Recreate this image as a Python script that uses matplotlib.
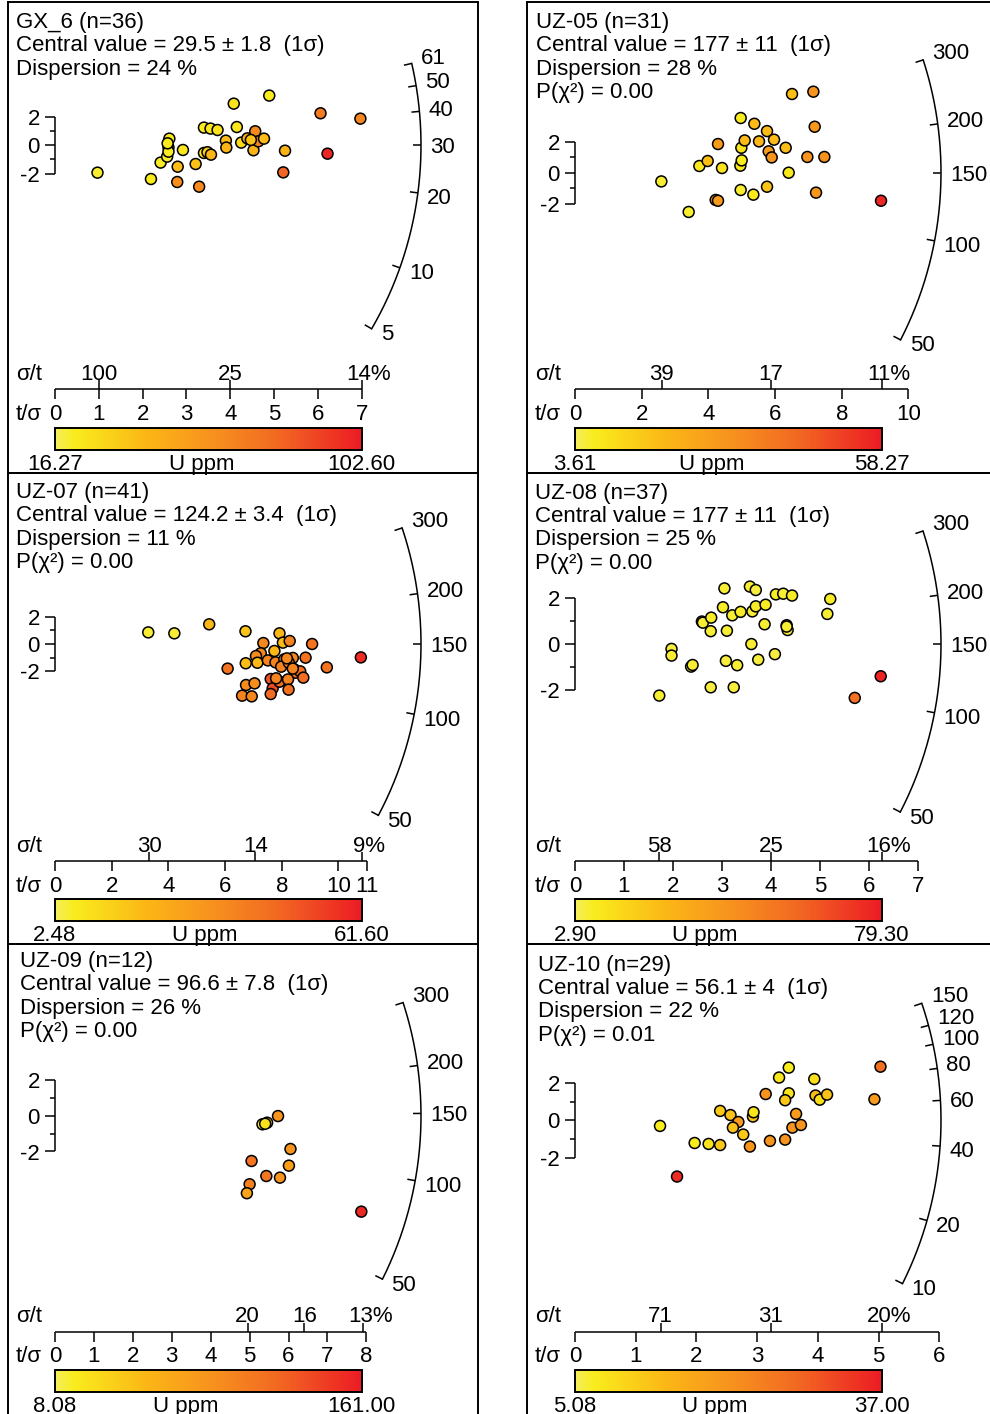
import numpy as np
import matplotlib.pyplot as plt
from matplotlib.colors import LinearSegmentedColormap, Normalize
from matplotlib.cm import ScalarMappable

plt.rcParams['font.family'] = ['Liberation Sans', 'DejaVu Sans']
plt.rcParams['font.size'] = 16

W, H = 990, 1414
R_ARC = 366.0     # radius of the age arc, pixels
X_SPAN = 306.7    # pixels between t/σ = 0 and the most precise grain
LW = 1.1

u_cmap = LinearSegmentedColormap.from_list(
    "u_ppm", [(0.0, "#f4ee5c"), (0.06, "#f9ec1d"), (0.3, "#fbb616"),
              (0.5, "#f7941d"), (0.72, "#f26a22"), (1.0, "#ec1c24")])

# GX_6
gx6_tsig = [0.97, 2.19, 2.41, 2.56, 2.59, 2.61, 2.80, 2.79, 2.92, 3.21, 3.29, 3.40, 3.40, 3.48, 3.56, 3.55, 3.71, 3.90,
            3.91, 4.08, 4.15, 4.25, 4.39, 4.53, 4.57, 4.64, 4.77, 4.89, 5.21, 5.25, 6.06, 6.22, 6.97, 2.59, 4.47, 2.57]
gx6_z = [-1.93, -2.38, -1.22, -0.80, -0.16, 0.47, -1.51, -2.59, -0.33, -1.32, -2.92, 1.25, -0.54, -0.49, -0.66, 1.18,
         1.08, 0.33, -0.16, 2.94, 1.29, 0.19, 0.49, -0.35, 0.99, 0.28, 0.47, 3.51, -1.91, -0.38, 2.26, -0.59, 1.88,
         -0.45, 0.38, 0.14]
gx6_u = [20, 22, 21, 20, 22, 23, 40, 62, 24, 38, 64, 22, 23, 33, 42, 24, 26, 40, 42, 25, 24, 28, 42, 44, 64, 66, 40,
         22, 80, 44, 70, 100, 66, 21, 38, 22]

# UZ-05
uz05_tsig = [2.59, 3.41, 3.73, 3.98, 4.29, 4.41, 4.22, 4.29, 4.97, 4.99, 5.09, 4.96, 5.00, 4.97, 5.35, 5.38, 5.52,
             5.76, 5.81, 5.90, 5.97, 5.76, 6.32, 6.41, 6.51, 7.15, 7.19, 6.97, 7.48, 7.23, 9.18]
uz05_z = [-0.56, -2.52, 0.43, 0.75, 1.84, 0.30, -1.75, -1.80, 3.51, 1.60, 2.07, 0.45, 0.79, -1.11, -1.41, 3.14, 2.01,
          2.67, 1.37, 0.98, 2.12, -0.90, 1.60, 0.00, 5.05, 5.20, 2.95, 1.01, 1.01, -1.28, -1.80]
uz05_u = [6, 6, 8, 18, 29, 9, 29, 29, 7, 9, 19, 8, 7, 6, 8, 19, 20, 19, 29, 31, 19, 17, 18, 8, 18, 31, 30, 31, 32, 30,
          56]

# UZ-07
uz07_tsig = [3.29, 4.21, 5.44, 6.72, 6.09, 6.73, 6.74, 7.04, 6.60, 6.94, 7.35, 7.26, 7.09, 7.14, 7.51, 7.74, 7.78,
             7.92, 8.04, 8.28, 8.09, 7.98, 8.39, 8.25, 8.44, 8.48, 8.65, 8.76, 8.84, 9.07, 9.59, 10.79, 7.61, 7.68,
             7.61, 7.92, 8.22, 8.24, 8.39, 8.18, 7.80]
uz07_z = [0.85, 0.78, 1.44, 0.93, -1.80, -1.41, -3.00, -2.88, -3.78, -3.83, 0.07, -0.68, -0.88, -1.37, -1.20, -0.51,
          -1.34, 0.78, 0.10, 0.22, -1.12, -1.66, -1.02, -1.37, -1.85, -2.10, -2.00, -2.46, -1.00, 0.00, -1.71, -0.98,
          -2.56, -3.24, -3.66, -2.76, -2.59, -3.34, -1.80, -1.05, -2.51]
uz07_u = [5, 5, 20, 17, 42, 18, 35, 34, 37, 36, 36, 36, 35, 20, 37, 20, 37, 20, 19, 37, 37, 38, 36, 38, 38, 43, 43,
          44, 42, 42, 42, 58, 50, 52, 45, 44, 38, 43, 38, 36, 38]

# UZ-08
uz08_tsig = [1.72, 1.97, 1.97, 2.37, 2.40, 2.59, 2.61, 2.78, 2.77, 2.77, 3.05, 3.02, 3.10, 3.08, 3.21, 3.24, 3.31,
             3.38, 3.57, 3.69, 3.62, 3.69, 3.60, 3.74, 3.89, 3.87, 4.08, 4.10, 4.25, 4.43, 4.32, 4.34, 5.21, 5.15,
             5.71, 6.24, 4.32]
uz08_z = [-2.23, -0.20, -0.49, -0.97, -0.90, 0.99, 0.94, 1.16, 0.57, -1.87, 2.43, 1.61, 0.59, -0.72, 1.26, -1.87,
          -0.91, 1.41, 2.51, 2.36, 1.43, 1.65, 0.01, -0.67, 1.72, 0.87, -0.43, 2.17, 2.20, 2.12, 0.83, 0.62, 1.97,
          1.32, -2.33, -1.39, 0.77]
uz08_u = [6, 5, 6, 5, 6, 5, 6, 7, 6, 5, 6, 7, 6, 5, 6, 5, 6, 7, 6, 5, 6, 7, 6, 5, 7, 6, 5, 7, 6, 7, 6, 5, 7, 6, 55,
          77, 6]

# UZ-09
uz09_tsig = [5.33, 5.45, 5.73, 6.05, 6.01, 5.78, 5.43, 5.05, 5.00, 4.93, 7.87, 5.40]
uz09_z = [-0.48, -0.39, -0.02, -1.86, -2.79, -3.46, -3.37, -2.53, -3.83, -4.33, -5.36, -0.45]
uz09_u = [18, 35, 85, 85, 75, 85, 108, 110, 100, 70, 155, 25]

# UZ-10
uz10_tsig = [1.40, 1.68, 1.97, 2.20, 2.39, 2.39, 2.56, 2.69, 2.60, 2.77, 2.88, 2.93, 2.94, 3.14, 3.21, 3.36, 3.52,
             3.52, 3.46, 3.46, 3.58, 3.64, 3.72, 3.94, 3.96, 4.03, 4.15, 4.93, 5.03]
uz10_z = [-0.30, -3.00, -1.21, -1.26, -1.32, 0.50, 0.28, -0.09, -0.39, -0.76, -1.40, 0.20, 0.43, 1.40, -1.10, 2.28,
          2.81, 1.44, 1.07, -1.03, -0.39, 0.34, -0.25, 2.20, 1.32, 1.10, 1.37, 1.12, 2.86]
uz10_u = [7, 35, 7, 8, 12, 12, 13, 20, 13, 12, 21, 13, 8, 21, 21, 8, 7, 8, 12, 21, 21, 20, 21, 9, 14, 9, 13, 20, 27]

# header text of each panel
gx6_lines = ["GX_6 (n=36)", "Central value = 29.5 ± 1.8  (1σ)", "Dispersion = 24 %"]
uz05_lines = ["UZ-05 (n=31)", "Central value = 177 ± 11  (1σ)", "Dispersion = 28 %", "P(χ²) = 0.00"]
uz07_lines = ["UZ-07 (n=41)", "Central value = 124.2 ± 3.4  (1σ)", "Dispersion = 11 %", "P(χ²) = 0.00"]
uz08_lines = ["UZ-08 (n=37)", "Central value = 177 ± 11  (1σ)", "Dispersion = 25 %", "P(χ²) = 0.00"]
uz09_lines = ["UZ-09 (n=12)", "Central value = 96.6 ± 7.8  (1σ)", "Dispersion = 26 %", "P(χ²) = 0.00"]
uz10_lines = ["UZ-10 (n=29)", "Central value = 56.1 ± 4  (1σ)", "Dispersion = 22 %", "P(χ²) = 0.01"]

# U colour ranges
gx6_urange = (16.27, 102.60)
uz05_urange = (3.61, 58.27)
uz07_urange = (2.48, 61.60)
uz08_urange = (2.90, 79.30)
uz09_urange = (8.08, 161.00)
uz10_urange = (5.08, 37.00)

# age arcs
gx6_arc = [5, 10, 20, 30, 40, 50, 61]
uz_arc = [50, 100, 150, 200, 300]
uz10_arc = [10, 20, 40, 60, 80, 100, 120, 150]

# t/σ ticks and σ/t ticks
gx6_tticks = [0, 1, 2, 3, 4, 5, 6, 7]
uz05_tticks = [0, 2, 4, 6, 8, 10]
uz07_tticks = [0, 2, 4, 6, 8, 10, 11]
uz08_tticks = [0, 1, 2, 3, 4, 5, 6, 7]
uz09_tticks = [0, 1, 2, 3, 4, 5, 6, 7, 8]
uz10_tticks = [0, 1, 2, 3, 4, 5, 6]

gx6_spos, gx6_slab = [1.0, 4.0, 7.0], ["100", "25", "14"]
uz05_spos, uz05_slab = [2.6, 5.87, 9.2], ["39", "17", "11"]
uz07_spos, uz07_slab = [3.32, 7.07, 10.82], ["30", "14", "9"]
uz08_spos, uz08_slab = [1.72, 4.0, 6.26], ["58", "25", "16"]
uz09_spos, uz09_slab = [4.95, 6.41, 7.92], ["20", "16", "13"]
uz10_spos, uz10_slab = [1.41, 3.22, 5.05], ["71", "31", "20"]

fig = plt.figure(figsize=(W / 100, H / 100), dpi=100)


def radial_panel(box, origin, sy, xmax, z0, lines, title_xy, tsig, zsc, u, u_range,
                 arc_ticks, tticks, spos, slab, uppm_frac, spines):
    bx, by, bw, bh = box
    ox, oy = origin
    sx = X_SPAN / xmax
    ax = fig.add_axes([bx / W, 1 - (by + bh) / H, bw / W, bh / H])
    ax.patch.set_visible(False)
    ax.set_xlim(-ox / sx, (bw - ox) / sx)
    ax.set_ylim(-(bh - oy) / sy, oy / sy)
    ax.set_xticks([])
    ax.set_yticks([])
    for side, sp in ax.spines.items():
        sp.set_visible(side in spines)
        sp.set_linewidth(1.4)

    def px(x, y):
        # pixel offset inside the panel -> data units
        return (x - ox) / sx, (oy - y) / sy

    kw = dict(color="k", lw=LW, solid_capstyle="butt")

    # header
    tx, ty = title_xy
    for i, s in enumerate(lines):
        ax.text(*px(tx, ty + i * 23.4), s, ha="left", va="center_baseline")

    # ±2 scale bar
    ax.plot([0, 0], [-2, 2], **kw)
    for v in [-2, -1, 0, 1, 2]:
        L = 10 if v % 2 == 0 else 5
        ax.plot([-L / sx, 0], [v, v], **kw)
    for v in [-2, 0, 2]:
        ax.text(-15 / sx, v, str(v), ha="right", va="center_baseline")

    # age arc
    def angle(t):
        return np.arctan(np.log(np.asarray(t, dtype=float) / z0) * sy / sx)

    def arc_xy(t, r):
        th = angle(t)
        return r * np.cos(th) / sx, r * np.sin(th) / sy

    tt = np.exp(np.linspace(np.log(min(arc_ticks)), np.log(max(arc_ticks)), 300))
    ax.plot(*arc_xy(tt, R_ARC), color="k", lw=LW)
    for tv in arc_ticks:
        x0, y0 = arc_xy(tv, R_ARC - 8)
        x1, y1 = arc_xy(tv, R_ARC)
        ax.plot([x0, x1], [y0, y1], **kw)
        lift = np.clip(35 * np.sin(angle(tv)), -3.5, 9)
        ax.text(x1 + 9 / sx, y1 + lift / sy, str(tv), ha="left", va="center_baseline")

    # grains
    norm = Normalize(*u_range)
    ax.scatter(tsig, zsc, c=u, cmap=u_cmap, norm=norm, s=62, edgecolors="k",
               linewidths=1.1, zorder=3, clip_on=False)

    # precision axis
    y_ax = px(0, 387.5)[1]
    ax.plot([0, tticks[-1]], [y_ax, y_ax], **kw)
    for tv in tticks:
        ax.plot([tv, tv], [y_ax, y_ax - 10 / sy], **kw)
        ax.text(tv, px(0, 410.5)[1], str(tv), ha="center", va="center_baseline")
    y_s = px(0, 370.5)[1]
    for i, (pos, lab) in enumerate(zip(spos, slab)):
        ax.plot([pos, pos], [y_ax, y_ax + 9 / sy], **kw)
        if i == len(spos) - 1:
            ax.text(pos + 7 / sx, y_s, lab + "%", ha="center", va="center_baseline")
        else:
            ax.text(pos, y_s, lab, ha="center", va="center_baseline")
    ax.text(*px(8, 370.5), "σ/t", ha="left", va="center_baseline")
    ax.text(*px(8, 410.5), "t/σ", ha="left", va="center_baseline")

    # U colour bar
    cax = fig.add_axes([(bx + ox) / W, 1 - (by + 448) / H, X_SPAN / W, 22.5 / H])
    cb = fig.colorbar(ScalarMappable(norm, u_cmap), cax=cax, orientation="horizontal")
    cb.set_ticks([])
    cb.ax.minorticks_off()
    cb.outline.set_linewidth(1.4)
    y_l = px(0, 459.7)[1]
    ax.text(0, y_l, f"{u_range[0]:.2f}", ha="center", va="center_baseline")
    ax.text(xmax, y_l, f"{u_range[1]:.2f}", ha="center", va="center_baseline")
    ax.text(uppm_frac * xmax, y_l, "U ppm", ha="center", va="center_baseline")
    return ax


radial_panel((8, 2, 470, 471), (47, 143.3), 14.17, 7.0, 30.0, gx6_lines, (8, 18),
             gx6_tsig, gx6_z, gx6_u, gx6_urange, gx6_arc, gx6_tticks, gx6_spos, gx6_slab, 0.48,
             ["top", "left", "right", "bottom"])
radial_panel((527, 2, 463, 471), (48, 170.7), 15.58, 9.2, 150.0, uz05_lines, (9, 18),
             uz05_tsig, uz05_z, uz05_u, uz05_urange, uz_arc, uz05_tticks, uz05_spos, uz05_slab, 0.445,
             ["top", "left", "bottom"])
radial_panel((8, 473, 470, 471), (47, 171), 13.67, 10.82, 150.0, uz07_lines, (8, 17),
             uz07_tsig, uz07_z, uz07_u, uz07_urange, uz_arc, uz07_tticks, uz07_spos, uz07_slab, 0.488,
             ["top", "left", "right", "bottom"])
radial_panel((527, 473, 463, 471), (48, 171.3), 23.0, 6.26, 150.0, uz08_lines, (8, 17.7),
             uz08_tsig, uz08_z, uz08_u, uz08_urange, uz_arc, uz08_tticks, uz08_spos, uz08_slab, 0.424,
             ["top", "left", "bottom"])
radial_panel((8, 944, 470, 470), (47, 171.7), 17.9, 7.88, 148.0, uz09_lines, (12, 15),
             uz09_tsig, uz09_z, uz09_u, uz09_urange, uz_arc, uz09_tticks, uz09_spos, uz09_slab, 0.427,
             ["top", "left", "right"])
radial_panel((527, 944, 463, 470), (48, 176.3), 18.75, 5.05, 50.3, uz10_lines, (11, 18.7),
             uz10_tsig, uz10_z, uz10_u, uz10_urange, uz10_arc, uz10_tticks, uz10_spos, uz10_slab, 0.455,
             ["top", "left"])

fig.savefig("out.png", dpi=100)
